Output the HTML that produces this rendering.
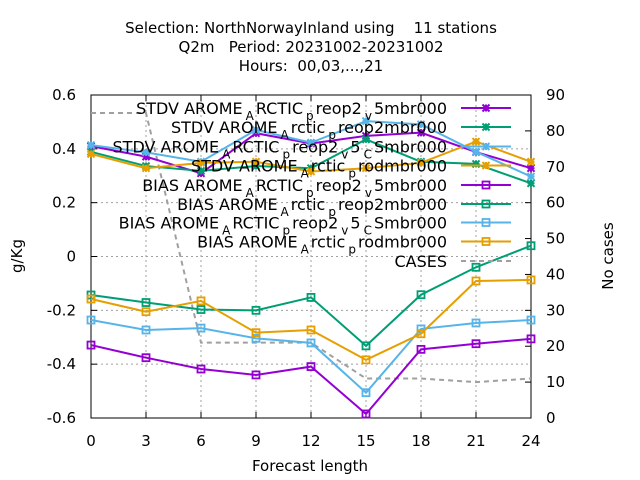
<!DOCTYPE html>
<html><head><meta charset="utf-8"><style>
html,body{margin:0;padding:0;background:#fff;}
svg{display:block;font-family:"DejaVu Sans","Liberation Sans",sans-serif;}
</style></head><body>
<svg id="chart" width="640" height="480" viewBox="0 0 640 480" xmlns="http://www.w3.org/2000/svg">
<rect x="0" y="0" width="640" height="480" fill="#fff"/>
<g font-size="15" text-anchor="middle" fill="#000">
<text x="311" y="33" xml:space="preserve">Selection: NorthNorwayInland using    11 stations</text>
<text x="311" y="52" xml:space="preserve">Q2m   Period: 20231002-20231002</text>
<text x="311" y="71" xml:space="preserve">Hours:  00,03,...,21</text>
</g>
<g id="grid"></g>
<g id="axes"></g>
<g id="series"></g>
<g id="legend"></g>
<text x="310" y="471" font-size="15" text-anchor="middle">Forecast length</text>
<text x="0" y="0" font-size="15" text-anchor="middle" transform="translate(22,256) rotate(-90)">g/Kg</text>
<text x="0" y="0" font-size="15" text-anchor="middle" transform="translate(613,256) rotate(-90)">No cases</text>
</svg>
<script>
const hours = [0,3,6,9,12,15,18,21,24];
const xTicks = [0,3,6,9,12,15,18,21,24];
const yTicks = [-0.6,-0.4,-0.2,0,0.2,0.4,0.6];
const yTickLabels = ["-0.6","-0.4","-0.2","0","0.2","0.4","0.6"];
const y2Ticks = [0,10,20,30,40,50,60,70,80,90];
const stdvArcticV5 = [0.41,0.371,0.309,0.458,0.42,0.448,0.46,0.388,0.328];
const stdvArcticReop2 = [0.389,0.336,0.318,0.336,0.328,0.435,0.352,0.344,0.272];
const stdvArcticV5CS = [0.414,0.387,0.352,0.47,0.423,0.503,0.491,0.389,0.297];
const stdvArcticRod = [0.381,0.328,0.348,0.352,0.316,0.328,0.348,0.427,0.352];
const biasArcticV5 = [-0.329,-0.376,-0.418,-0.44,-0.409,-0.585,-0.345,-0.324,-0.306];
const biasArcticReop2 = [-0.143,-0.171,-0.197,-0.2,-0.152,-0.332,-0.142,-0.04,0.04];
const biasArcticV5CS = [-0.236,-0.273,-0.266,-0.304,-0.321,-0.506,-0.269,-0.247,-0.236];
const biasArcticRod = [-0.158,-0.205,-0.165,-0.283,-0.273,-0.384,-0.287,-0.091,-0.087];
const cases = [85,85,21,21,21,11,11,10,11];

const L=91,R=531,T=95,B=418;
const NS='http://www.w3.org/2000/svg';
const X=h=>L+(h-0)/(24-0)*(R-L);
const Y=v=>B-(v+0.6)/1.2*(B-T);
const Y2=c=>B-c/90*(B-T);
function mk(tag,attrs,parent){const e=document.createElementNS(NS,tag);for(const k in attrs)e.setAttribute(k,attrs[k]);parent.appendChild(e);return e;}
const grid=document.getElementById('grid'),axes=document.getElementById('axes'),ser=document.getElementById('series'),leg=document.getElementById('legend');

xTicks.forEach(t=>{
  if(t>0&&t<24){const g=mk('line',{x1:X(t),x2:X(t),y1:T,y2:B,stroke:'#a0a0a0','stroke-width':1,'stroke-dasharray':'2,3'},grid);
  
  }
  const tk=mk('line',{x1:X(t),x2:X(t),y1:B,y2:B-6,stroke:'#000'},axes);
  
  
  const tk2=mk('line',{x1:X(t),x2:X(t),y1:T,y2:T+6,stroke:'#000'},axes);
  
  
  const lb=mk('text',{x:X(t),y:446,'font-size':15,'text-anchor':'middle'},axes);lb.textContent=String(t);
  
  
});
yTicks.forEach((t,i)=>{
  if(i>0&&i<yTicks.length-1){const g=mk('line',{x1:L,x2:R,y1:Y(t),y2:Y(t),stroke:'#a0a0a0','stroke-width':1,'stroke-dasharray':'2,3'},grid);
  
  }
  const tk=mk('line',{x1:L,x2:L+6,y1:Y(t),y2:Y(t),stroke:'#000'},axes);
  
  
  const lb=mk('text',{x:76,y:Y(t)+5,'font-size':15,'text-anchor':'end'},axes);lb.textContent=yTickLabels[i];
  
  
});
y2Ticks.forEach(t=>{
  const tk=mk('line',{x1:R,x2:R-6,y1:Y2(t),y2:Y2(t),stroke:'#000'},axes);
  
  
  const lb=mk('text',{x:546,y:Y2(t)+5,'font-size':15,'text-anchor':'start'},axes);lb.textContent=String(t);
  
  
});
const frame=mk('rect',{x:L,y:T,width:R-L,height:B-T,fill:'none',stroke:'#000','stroke-width':1},axes);



function star(g,x,y,c){
  const s=3.5;
  mk('path',{d:`M${x-s},${y}H${x+s}M${x},${y-s}V${y+s}M${x-s},${y-s}L${x+s},${y+s}M${x-s},${y+s}L${x+s},${y-s}`,stroke:c,'stroke-width':2,fill:'none'},g);
}
function square(g,x,y,c){
  mk('rect',{x:x-3.5,y:y-3.5,width:7,height:7,fill:'none',stroke:c,'stroke-width':1.8},g);
}
const seriesList=[
 {name:'stdv-arctic-reop2-v5',vals:stdvArcticV5,color:'#9400d3',mark:star,label:[['STDV AROME',0],['A',1],['RCTIC',0],['p',1],['reop2',0],['v',1],['5mbr000',0]]},
 {name:'stdv-arctic-reop2',vals:stdvArcticReop2,color:'#009e73',mark:star,label:[['STDV AROME',0],['A',1],['rctic',0],['p',1],['reop2mbr000',0]]},
 {name:'stdv-arctic-reop2-v5-cs',vals:stdvArcticV5CS,color:'#56b4e9',mark:star,label:[['STDV AROME',0],['A',1],['RCTIC',0],['p',1],['reop2',0],['v',1],['5',0],['C',1],['Smbr000',0]]},
 {name:'stdv-arctic-rod',vals:stdvArcticRod,color:'#e69f00',mark:star,label:[['STDV AROME',0],['A',1],['rctic',0],['p',1],['rodmbr000',0]]},
 {name:'bias-arctic-reop2-v5',vals:biasArcticV5,color:'#9400d3',mark:square,label:[['BIAS AROME',0],['A',1],['RCTIC',0],['p',1],['reop2',0],['v',1],['5mbr000',0]]},
 {name:'bias-arctic-reop2',vals:biasArcticReop2,color:'#009e73',mark:square,label:[['BIAS AROME',0],['A',1],['rctic',0],['p',1],['reop2mbr000',0]]},
 {name:'bias-arctic-reop2-v5-cs',vals:biasArcticV5CS,color:'#56b4e9',mark:square,label:[['BIAS AROME',0],['A',1],['RCTIC',0],['p',1],['reop2',0],['v',1],['5',0],['C',1],['Smbr000',0]]},
 {name:'bias-arctic-rod',vals:biasArcticRod,color:'#e69f00',mark:square,label:[['BIAS AROME',0],['A',1],['rctic',0],['p',1],['rodmbr000',0]]},
];
const cg=mk('g',{},ser);


mk('polyline',{points:hours.map((h,i)=>X(h)+','+Y2(cases[i])).join(' '),fill:'none',stroke:'#a0a0a0','stroke-width':2,'stroke-dasharray':'5,4'},cg);

seriesList.forEach(s=>{
  const g=mk('g',{},ser);
  
  
  mk('polyline',{points:hours.map((h,i)=>X(h)+','+Y(s.vals[i])).join(' '),fill:'none',stroke:s.color,'stroke-width':2},g);
  hours.forEach((h,i)=>s.mark(g,X(h),Y(s.vals[i]),s.color));
});

const legY=[108,127,146.5,165.5,185,204,222.5,241.5,261];
seriesList.forEach((s,i)=>{
  const g=mk('g',{},leg);
  
  
  const y=legY[i];
  const t=mk('text',{x:447,y:y+6,'font-size':16,'text-anchor':'end'},g);
  let sub=false;
  s.label.forEach(([txt,isSub])=>{
    const ts=document.createElementNS(NS,'tspan');
    if(isSub&&!sub){ts.setAttribute('dy','6');ts.setAttribute('font-size','12');ts.setAttribute('dx','3');}
    else if(isSub){ts.setAttribute('font-size','12');}
    else if(!isSub&&sub){ts.setAttribute('dy','-6');ts.setAttribute('dx','2');}
    sub=!!isSub;
    ts.textContent=txt;t.appendChild(ts);
  });
  mk('line',{x1:461,x2:511,y1:y,y2:y,stroke:s.color,'stroke-width':2},g);
  s.mark(g,486,y,s.color);
});
const cgl=mk('g',{},leg);


const ct=mk('text',{x:447,y:legY[8]+6,'font-size':16,'text-anchor':'end'},cgl);ct.textContent='CASES';
mk('line',{x1:461,x2:511,y1:legY[8],y2:legY[8],stroke:'#a0a0a0','stroke-width':2,'stroke-dasharray':'5,4'},cgl);
</script>
</body></html>
